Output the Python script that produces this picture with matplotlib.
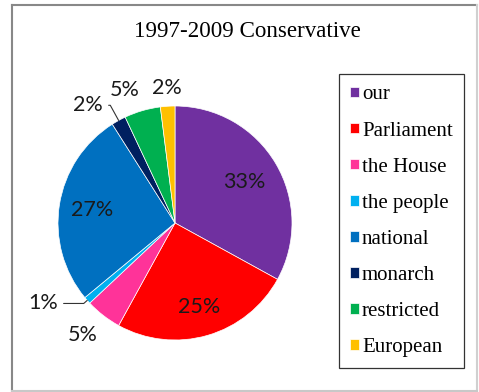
import numpy as np
import matplotlib
matplotlib.use("Agg")
import matplotlib.pyplot as plt
from matplotlib.lines import Line2D

W, H = 479, 392

# data
labels = ["our", "Parliament", "the House", "the people",
          "national", "monarch", "restricted", "European"]
shares = [33, 25, 5, 1, 27, 2, 5, 2]
colors = ["#7030A0", "#FF0000", "#FF3399", "#00B0F0",
          "#0070C0", "#002060", "#00B050", "#FFC000"]

# label placement (radius, angle shift in degrees, leader line?)
label_dist = [0.69, 0.75, 1.24, 1.32, 0.72, 1.25, 1.21, 1.16]
label_shift = [0, 0, -1.6, -10, 0, 7.6, 4.4, 0]
leader = [False, False, False, True, False, True, False, False]

fig = plt.figure(figsize=(W / 100, H / 100), dpi=100)
fig.patch.set_facecolor("white")

# pie axes, center ~ (175, 223) px, radius ~117 px
lim = 1.45
side = 2 * lim * 117
cx, cy = 175, H - 223
ax = fig.add_axes([(cx - side / 2) / W, (cy - side / 2) / H, side / W, side / H])

wedges, _ = ax.pie(shares, colors=colors, startangle=90, counterclock=False,
                   wedgeprops=dict(edgecolor="white", linewidth=0.5))
ax.set_xlim(-lim, lim)
ax.set_ylim(-lim, lim)
ax.set_aspect("equal")
ax.axis("off")

for i, w in enumerate(wedges):
    mid = (w.theta1 + w.theta2) / 2
    ang = np.deg2rad(mid + label_shift[i])
    tx = label_dist[i] * np.cos(ang)
    ty = label_dist[i] * np.sin(ang)
    txt = f"{shares[i]}%"
    if leader[i]:
        ex = np.cos(np.deg2rad(mid))
        ey = np.sin(np.deg2rad(mid))
        ax.annotate(txt, xy=(ex, ey), xytext=(tx, ty), ha="center", va="center",
                    fontsize=15.5, family="Lato", color="#1a1a1a",
                    arrowprops=dict(arrowstyle="-", color="#333333", lw=0.8,
                                    shrinkA=2, shrinkB=0,
                                    connectionstyle=f"angle,angleA=0,angleB={mid},rad=0"))
    else:
        ax.text(tx, ty, txt, ha="center", va="center", fontsize=15.5,
                family="Lato", color="#1a1a1a")

fig.text(247.5 / W, 1 - 37 / H, "1997-2009 Conservative", ha="center",
         va="baseline", fontsize=16.6, family="Liberation Serif")

leg = fig.legend(wedges, labels, loc="upper left",
                 bbox_to_anchor=(339 / W, 1 - 74 / H),
                 prop={"family": "Liberation Serif", "size": 15},
                 frameon=True, fancybox=False, shadow=False,
                 handlelength=0.4, handleheight=0.4, handletextpad=0.15,
                 labelspacing=0.82, borderpad=0.55, borderaxespad=0)
leg.get_frame().set_edgecolor("black")
leg.get_frame().set_linewidth(0.9)

# outer frame
def fline(x0, y0, x1, y1, c):
    fig.add_artist(Line2D([x0 / W, x1 / W], [1 - y0 / H, 1 - y1 / H],
                          transform=fig.transFigure, color=c, lw=1.5))

fline(12, 5, 477, 5, "#888888")
fline(12, 5, 12, 391, "#888888")
fline(477, 5, 477, 391, "#d0d0d0")
fline(12, 391, 477, 391, "#c8c8c8")

fig.savefig("out.png", dpi=100)
